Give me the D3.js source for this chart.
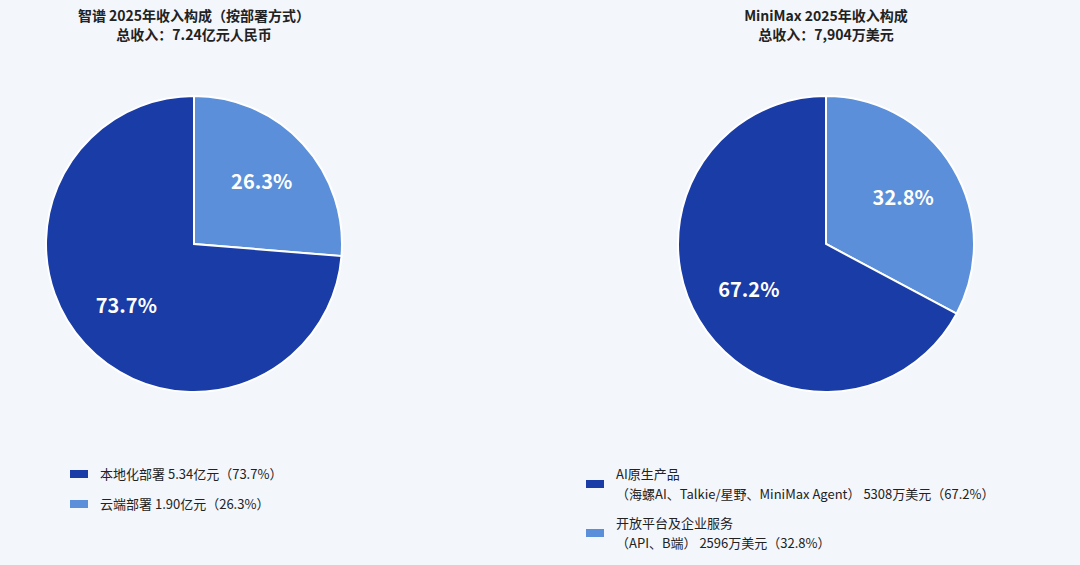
<!DOCTYPE html>
<html><head><meta charset="utf-8">
<script src="https://cdn.jsdelivr.net/npm/d3@7"></script>
<style>
body{margin:0;background:#f3f6fb;}
svg{font-family:"Noto Sans CJK SC","Noto Sans",sans-serif;}
</style></head>
<body><svg></svg>
<script>
// chart data
const zhipuTitle = ['智谱 2025年收入构成（按部署方式）', '总收入：7.24亿元人民币']
const zhipuValues = [26.3, 73.7]
const zhipuLegend = [
  ['本地化部署  5.34亿元（73.7%）'],
  ['云端部署  1.90亿元（26.3%）']
]
const mmTitle = ['MiniMax 2025年收入构成', '总收入：7,904万美元']
const mmValues = [32.8, 67.2]
const mmLegend = [
  ['AI原生产品', '（海螺AI、Talkie/星野、MiniMax Agent）   5308万美元（67.2%）'],
  ['开放平台及企业服务', '（API、B端）   2596万美元（32.8%）']
]
const colors = ['#5b8fd9', '#1a3ca6']

const w = 1080, h = 565
const svg = d3.select('svg').attr('width', w).attr('height', h)

const drawPie = (cx, values, title, labelR) => {
  const g = svg.append('g').attr('transform', `translate(${cx},244)`)
  const pie = d3.pie().sort(null)(values)
  const arc = d3.arc().innerRadius(0).outerRadius(148)
  const lab = d3.arc().innerRadius(labelR).outerRadius(labelR)
  g.selectAll('path').data(pie).enter().append('path')
    .attr('d', arc).attr('fill', (d, i) => colors[i])
    .attr('stroke', '#fff').attr('stroke-width', 2)
  g.selectAll('.lbl').data(pie).enter().append('text')
    .attr('class', 'lbl')
    .attr('transform', d => `translate(${lab.centroid(d)})`)
    .attr('text-anchor', 'middle').attr('dy', '0.35em')
    .attr('fill', '#fff').attr('font-size', 20).attr('font-weight', 700)
    .text(d => d.data.toFixed(1) + '%')
  title.forEach((t, i) => {
    svg.append('text').attr('x', cx).attr('y', 21 + i * 19)
      .attr('text-anchor', 'middle').attr('font-size', 14).attr('font-weight', 700)
      .attr('fill', '#222').text(t)
  })
}
drawPie(194, zhipuValues, zhipuTitle, 92)
drawPie(826, mmValues, mmTitle, 90)

// legends
const legend = (x, y0, step, items, order) => {
  items.forEach((lines, i) => {
    const y = y0 + i * step
    const sqY = lines.length > 1 ? y + 10 : y
    svg.append('rect').attr('x', x).attr('y', sqY - 4).attr('width', 18).attr('height', 8)
      .attr('fill', colors[order[i]])
    lines.forEach((t, j) => {
      svg.append('text').attr('x', x + 30).attr('y', y + j * 20).attr('dy', '0.35em')
        .attr('font-size', 13).attr('fill', '#222').text(t)
    })
  })
}
legend(70, 474, 30, zhipuLegend, [1, 0])
legend(586, 474, 49, mmLegend, [1, 0])
</script></body></html>
